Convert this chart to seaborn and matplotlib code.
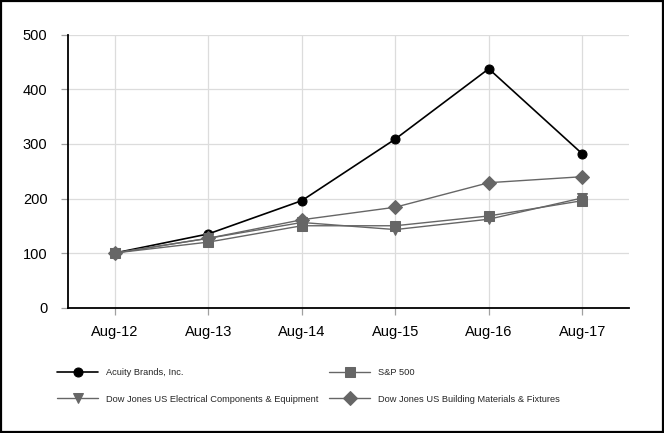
import pandas as pd
import numpy as np
import matplotlib.pyplot as plt
import seaborn as sns
from matplotlib.patches import Rectangle

# Values
years = ['Aug-12', 'Aug-13', 'Aug-14', 'Aug-15', 'Aug-16', 'Aug-17']
acuity = [100, 135, 196, 309, 438, 282]
sp500 = [100, 120, 150, 150, 168, 196]
dj_electrical = [100, 127, 156, 143, 162, 201]
dj_building = [100, 127, 161, 184, 229, 240]

series_names = ['Acuity Brands, Inc.', 'S&P 500',
                'Dow Jones US Electrical Components & Equipment',
                'Dow Jones US Building Materials & Fixtures']

df = pd.DataFrame({
    'year': years * 4,
    'value': acuity + sp500 + dj_electrical + dj_building,
    'series': np.repeat(series_names, len(years)),
})

sns.set_style('white')
plt.rcParams['font.family'] = ['Liberation Sans', 'DejaVu Sans']

fig = plt.figure(figsize=(6.64, 4.33), dpi=100)
ax = fig.add_axes([0.1024, 0.2898, 0.8449, 0.6294])

gray = '#666666'
palette = {series_names[0]: 'black', series_names[1]: gray,
           series_names[2]: gray, series_names[3]: gray}
markers = {series_names[0]: 'o', series_names[1]: 's',
           series_names[2]: 'v', series_names[3]: 'D'}
msizes = {series_names[0]: 6.5, series_names[1]: 7,
          series_names[2]: 6.5, series_names[3]: 7.5}

for name in series_names:
    sub = df[df['series'] == name]
    sns.lineplot(data=sub, x='year', y='value', ax=ax, color=palette[name],
                 marker=markers[name], markersize=msizes[name],
                 markeredgecolor=palette[name],
                 linewidth=1.2 if name == series_names[0] else 1.0,
                 label=name, legend=False, sort=False)

ax.set_xlim(-0.5, 5.5)
ax.set_ylim(0, 500)
ax.set_yticks([0, 100, 200, 300, 400, 500])
ax.set_xlabel('')
ax.set_ylabel('')
ax.grid(True, color='#dcdcdc', linewidth=0.9)
ax.set_axisbelow(True)

for side in ['top', 'right']:
    ax.spines[side].set_visible(False)
for side in ['left', 'bottom']:
    ax.spines[side].set_color('black')
    ax.spines[side].set_linewidth(1.3)

ax.tick_params(axis='both', which='both', direction='out', length=4.8,
               color='#a0a0a0', width=0.9, labelsize=10.5, labelcolor='black',
               left=True, bottom=True)
ax.tick_params(axis='y', pad=10)
ax.tick_params(axis='x', pad=8)

handles, labels = ax.get_legend_handles_labels()
order = [0, 2, 1, 3]
fig.legend([handles[i] for i in order], [labels[i] for i in order],
           loc='upper left', bbox_to_anchor=(0.086, 0.150), ncol=2,
           frameon=False, fontsize=6.7, handlelength=4.4, handletextpad=0.9,
           columnspacing=1.1, labelspacing=1.9, borderpad=0, borderaxespad=0)

fig.patches.append(Rectangle((0.0015, 0.0023), 0.997, 0.9954, transform=fig.transFigure,
                             fill=False, edgecolor='black', linewidth=1.6))

fig.savefig('out.png', dpi=100)
